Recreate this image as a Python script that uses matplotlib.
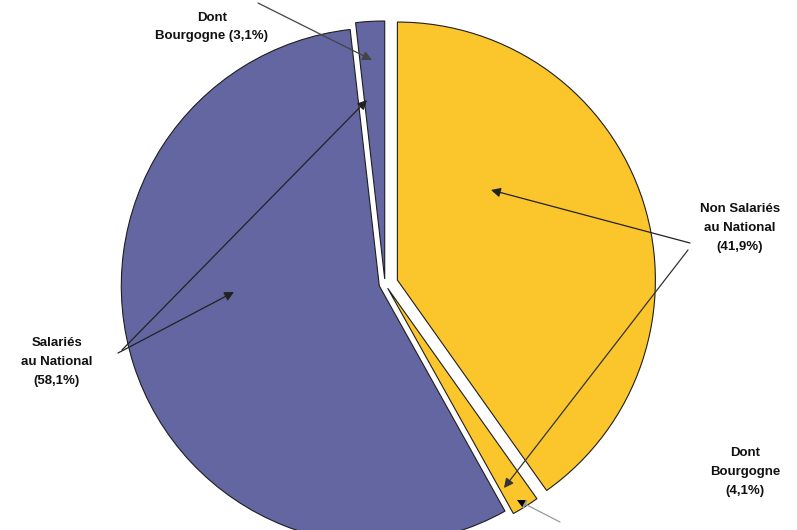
import matplotlib
matplotlib.use("Agg")
import matplotlib.pyplot as plt

# national split and share of Bourgogne inside each group
groups = ["Non Salariés au National", "Salariés au National"]
national_pct = [41.9, 58.1]
bourgogne_pct = [4.1, 3.1]
colors = ["#FBC62B", "#6366A0"]

plt.rcParams["font.family"] = ["Liberation Sans", "DejaVu Sans"]

W, H = 797, 530
fig = plt.figure(figsize=(W / 100, H / 100), dpi=100)
ax = fig.add_axes([0, 0, 1, 1])


def px(x, y):
    return (x, H - y)


sizes = []
wedge_colors = []
for pct, bg, c in zip(national_pct, bourgogne_pct, colors):
    sizes.append(pct * (100 - bg) / 100)
    sizes.append(pct * bg / 100)
    wedge_colors += [c, c]

# explode offsets are in pixels here (radius is given in pixels)
explode = [13, 5, 6, 5]
ax.pie(sizes, colors=wedge_colors, startangle=90, counterclock=False,
       explode=explode, center=px(385, 284), radius=258,
       wedgeprops=dict(edgecolor="#1e1e1e", linewidth=0.8), frame=True)
ax.set_xlim(0, W)
ax.set_ylim(0, H)
ax.axis("off")


def fr(v):
    return str(v).replace(".", ",")


txt = dict(fontsize=9.5, fontweight="bold", ha="center", va="center",
           linespacing=1.75, color="#111111")
ax.text(*px(212, 27), "Dont\nBourgogne (%s%%)" % fr(bourgogne_pct[1]), **txt)
ax.text(*px(57, 362), "Salariés\nau National\n(%s%%)" % fr(national_pct[1]), **txt)
ax.text(*px(740, 228), "Non Salariés\nau National\n(%s%%)" % fr(national_pct[0]), **txt)
ax.text(*px(745, 472), "Dont\nBourgogne\n(%s%%)" % fr(bourgogne_pct[0]), **txt)

arrows = [
    ((258, 3), (372, 60), "#444444"),
    ((118, 353), (234, 292), "#222222"),
    ((122, 350), (367, 100), "#222222"),
    ((690, 243), (491, 190), "#222222"),
    ((688, 250), (504, 488), "#333333"),
    ((560, 522), (517, 500), "#999999"),
]
for start, end, col in arrows:
    ax.annotate("", xy=px(*end), xytext=px(*start),
                arrowprops=dict(arrowstyle="-|>", color=col, lw=0.9,
                                mutation_scale=14, shrinkA=0, shrinkB=0))
    if col == "#999999":
        ax.annotate("", xy=px(*end), xytext=px(*start),
                    arrowprops=dict(arrowstyle="-|>", color="black", lw=0,
                                    mutation_scale=14, shrinkA=0, shrinkB=0))

fig.savefig("out.png", dpi=100)
